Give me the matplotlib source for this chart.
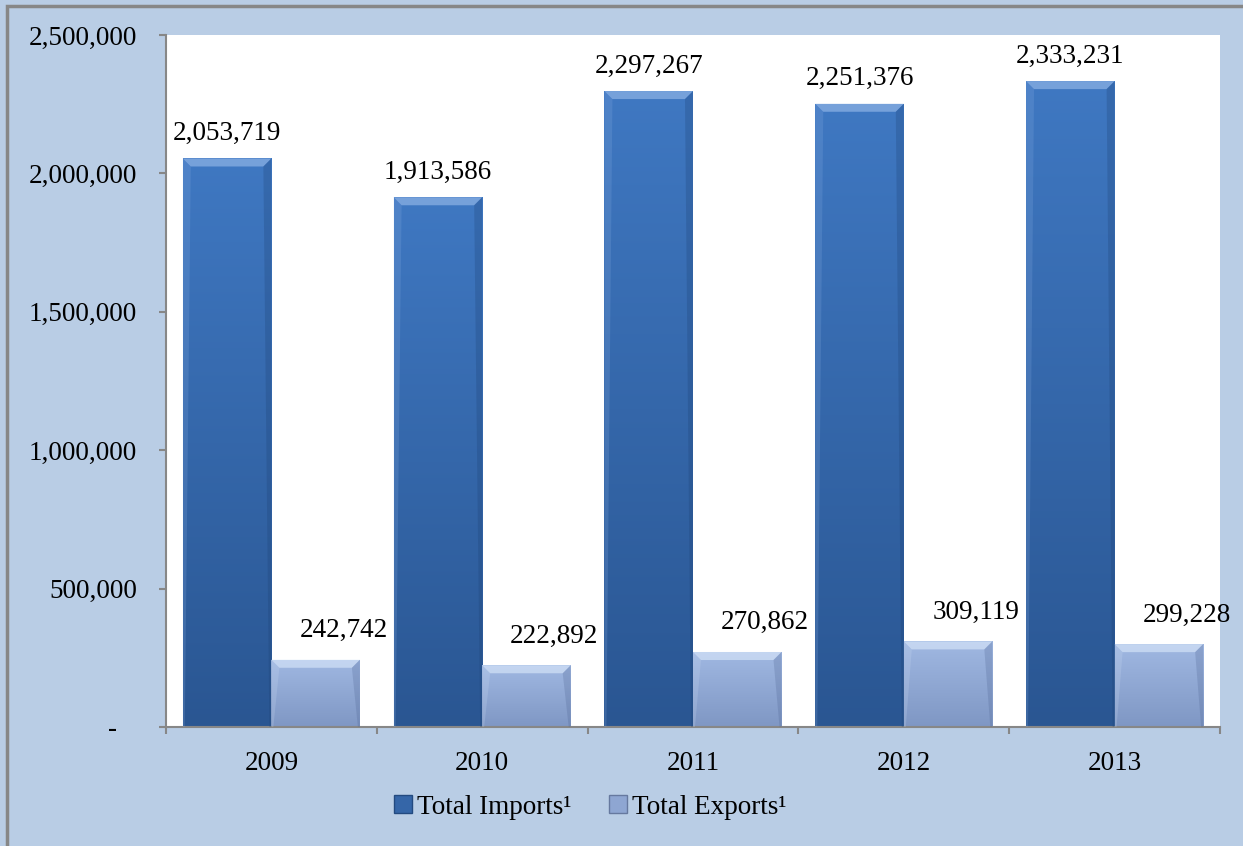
import numpy as np
import matplotlib.pyplot as plt
from matplotlib.patches import Patch, Polygon, Rectangle
from matplotlib.colors import LinearSegmentedColormap

years = ['2009', '2010', '2011', '2012', '2013']
imports = [2053719, 1913586, 2297267, 2251376, 2333231]
exports = [242742, 222892, 270862, 309119, 299228]
series_names = ['Total Imports\u00b9', 'Total Exports\u00b9']

plt.rcParams['font.family'] = ['Liberation Serif', 'DejaVu Serif']

bg = '#b9cde5'
fig = plt.figure(figsize=(12.43, 8.46), dpi=100, facecolor=bg)
ax = fig.add_axes([0.1335, 0.1407, 0.848, 0.818])
ax.set_facecolor('white')

# outer chart border (top and left only are visible)
fig.add_artist(Rectangle((7 / 1243, -0.1), 1.2, 1.1 - 6 / 846, transform=fig.transFigure,
                         fill=False, edgecolor='#878787', linewidth=2.5))

x = np.arange(len(years))
w = 0.42
ax.set_xlim(-0.5, len(years) - 0.5)
ax.set_ylim(0, 2500000)

px_x = 1.0 / 210.8          # one pixel in x data units
px_y = 2500000 / 692.0      # one pixel in y data units


def shaded_bars(xpos, vals, top_col, bot_col, light, dark):
    bars = ax.bar(xpos, vals, w, color='none', edgecolor='none', zorder=2)
    cmap = LinearSegmentedColormap.from_list('g', [bot_col, top_col])
    grad = np.linspace(0, 1, 256).reshape(-1, 1)
    for b in bars:
        x0, y0 = b.get_x(), b.get_y()
        bw, bh = b.get_width(), b.get_height()
        im = ax.imshow(grad, cmap=cmap, extent=(x0, x0 + bw, y0, y0 + bh),
                       origin='lower', aspect='auto', zorder=2)
        im.set_clip_path(b)
        bx, by = 8 * px_x, 8 * px_y
        top = y0 + bh
        # top bevel
        ax.add_patch(Polygon([(x0, top), (x0 + bw, top), (x0 + bw - bx, top - by),
                              (x0 + bx, top - by)], closed=True, facecolor=light,
                             edgecolor='none', alpha=0.7, zorder=3))
        # side bevels
        ax.add_patch(Polygon([(x0 + bw, top), (x0 + bw, y0), (x0 + bw - 2 * px_x, y0),
                              (x0 + bw - bx, top - by)], closed=True, facecolor=dark,
                             edgecolor='none', alpha=0.25, zorder=3))
        ax.add_patch(Polygon([(x0, top), (x0, y0), (x0 + 2 * px_x, y0),
                              (x0 + bx, top - by)], closed=True, facecolor=light,
                             edgecolor='none', alpha=0.2, zorder=3))
    return bars


shaded_bars(x - w / 2, imports, '#3f78c2', '#2a5692', '#8fb3e6', '#1c3f70')
shaded_bars(x + w / 2, exports, '#a0b8e2', '#7f97c4', '#d3e2f7', '#4d6391')

for xi, v in zip(x - w / 2, imports):
    ax.annotate(f'{v:,}', (xi, v), xytext=(0, 9), textcoords='offset points',
                ha='center', va='bottom', fontsize=19.5)
for xi, v in zip(x + w / 2, exports):
    ax.annotate(f'{v:,}', (xi, v), xytext=(20, 12), textcoords='offset points',
                ha='center', va='bottom', fontsize=19.5)

# axes styling
for s in ['top', 'right']:
    ax.spines[s].set_visible(False)
for s in ['left', 'bottom']:
    ax.spines[s].set_color('#878787')
    ax.spines[s].set_linewidth(1.5)

yt = [0, 500000, 1000000, 1500000, 2000000, 2500000]
ax.set_yticks(yt)
ax.set_yticklabels(['-   '] + [f'{v:,}' for v in yt[1:]])
ax.tick_params(axis='y', length=5, width=1.5, color='#878787', pad=16, labelsize=19.5)

ax.set_xticks(np.arange(len(years) + 1) - 0.5)
ax.set_xticklabels([])
ax.tick_params(axis='x', which='major', length=5, width=1.5, color='#878787')
ax.set_xticks(x, minor=True)
ax.set_xticklabels(years, minor=True)
ax.tick_params(axis='x', which='minor', length=0, pad=17, labelsize=19.5)

handles = [Patch(facecolor='#3566a8', edgecolor='#234a80'),
           Patch(facecolor='#8ea6d2', edgecolor='#66799f')]
fig.legend(handles, series_names, loc='center', bbox_to_anchor=(0.475, 0.046),
           ncol=2, frameon=False, fontsize=19.5, handlelength=0.65, handleheight=0.65,
           handletextpad=0.2, columnspacing=1.4)

plt.savefig('out.png', dpi=100, facecolor=bg)
